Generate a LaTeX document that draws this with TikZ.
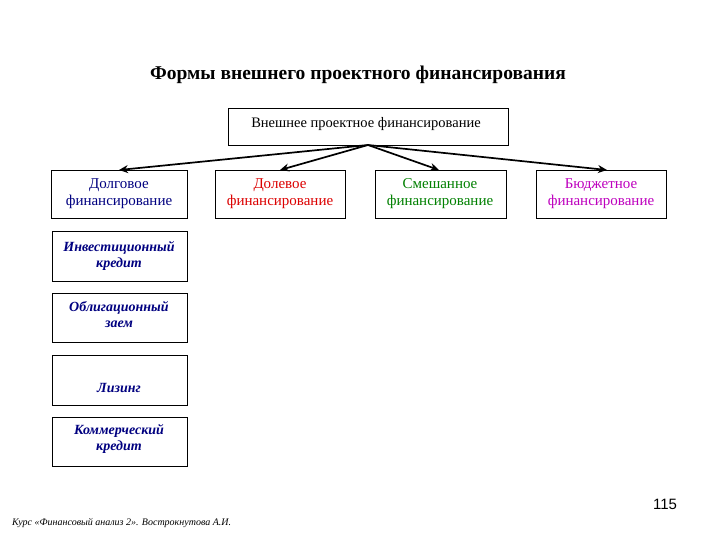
\documentclass[tikz,border=0pt]{standalone}
\usepackage{fontspec}
\setmainfont{Liberation Serif}
\setsansfont{Liberation Sans}
\usetikzlibrary{arrows.meta}
\definecolor{navy}{RGB}{0,0,128}
\definecolor{dred}{RGB}{220,0,0}
\definecolor{dgreen}{RGB}{0,128,0}
\definecolor{dmag}{RGB}{190,0,190}
\tikzset{
  box/.style={draw=black, line width=0.8pt, fill=white},
  lbl/.style={align=center, inner sep=0pt, font=\fontsize{15}{17}\selectfont},
  ilbl/.style={align=center, inner sep=0pt, text=navy, font=\fontsize{14}{16}\selectfont\bfseries\itshape},
  arr/.style={-{Stealth[length=9pt,width=8pt]}, line width=1.7pt},
}
\begin{document}
\begin{tikzpicture}[x=1pt,y=-1pt]
\useasboundingbox (0,0) rectangle (720,540);
\node[font=\fontsize{19.5}{22}\selectfont\bfseries] (title) at (358,75) {Формы внешнего проектного финансирования};
% top box
\draw[box] (228,108) rectangle (508,145);
\node[inner sep=0pt, font=\fontsize{14.5}{16}\selectfont] (topt) at (366,124) {Внешнее проектное финансирование};
\coordinate (src) at (368,145);
% four boxes
\draw[box] (51,170) rectangle (187,218);
\draw[box] (215,170) rectangle (345,218);
\draw[box] (375,170) rectangle (506,218);
\draw[box] (536,170) rectangle (666,218);
\node[lbl, text=navy] (b1) at (119,193.5) {Долговое\\финансирование};
\node[lbl, text=dred] (b2) at (280,193.5) {Долевое\\финансирование};
\node[lbl, text=dgreen] (b3) at (440,193.5) {Смешанное\\финансирование};
\node[lbl, text=dmag] (b4) at (601,193.5) {Бюджетное\\финансирование};
\coordinate (t1) at (119,170);
\coordinate (t2) at (280,170);
\coordinate (t3) at (439,170);
\coordinate (t4) at (607,170);
\draw[arr] (src) -- (t1);
\draw[arr] (src) -- (t2);
\draw[arr] (src) -- (t3);
\draw[arr] (src) -- (t4);
% left column
\draw[box] (52,231) rectangle (187,281);
\draw[box] (52,293) rectangle (187,342);
\draw[box] (52,355) rectangle (187,405);
\draw[box] (52,417) rectangle (187,466);
\node[ilbl] (l1) at (119,256) {Инвестиционный\\кредит};
\node[ilbl] (l2) at (119,315) {Облигационный\\заем};
\node[ilbl] (l3) at (119,388) {Лизинг};
\node[ilbl] (l4) at (119,439) {Коммерческий\\кредит};
% footer
\node[font=\sffamily\fontsize{15}{17}\selectfont] (pg) at (665,504) {115};
\node[anchor=west, inner sep=0pt, font=\fontsize{10}{12}\selectfont\itshape] (ft) at (12,523) {Курс «Финансовый анализ 2». Вострокнутова А.И.};
\end{tikzpicture}
\end{document}
